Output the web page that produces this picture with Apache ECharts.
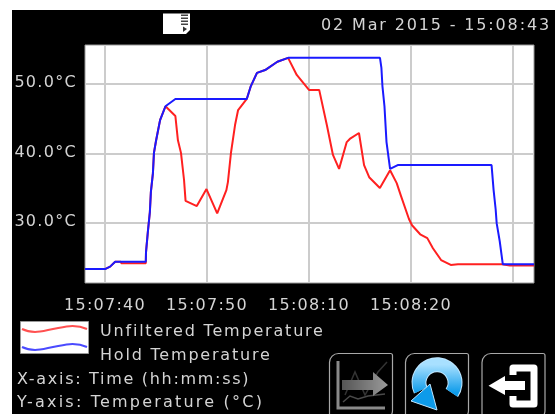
<!DOCTYPE html>
<html>
<head>
<meta charset="utf-8">
<title>Temperature chart</title>
<script src="https://cdn.jsdelivr.net/npm/echarts@6/dist/echarts.min.js"></script>
<style>
html, body { margin: 0; padding: 0; background: #fff; overflow: hidden; }
#panel { position: absolute; left: 12px; top: 10px; right: 0; bottom: 0; background: #000; }
#chart { position: absolute; left: 0; top: 0; width: 555px; height: 414px; filter: blur(0.35px); }
</style>
</head>
<body>
<div id="panel"></div>
<div id="chart"></div>
<script>
// seconds on the plot, the device labels do not run evenly so labels are listed apart
const tickPositions = [0, 10, 20, 30, 40]
const tickLabels = ['15:07:40', '15:07:50', '15:08:10', '15:08:20', '']
const tempTicks = [30, 40, 50]

const holdTime = [-1.96, 0, 0.5, 1, 4, 4.02, 4.2, 4.4, 4.5, 4.7, 4.8, 5, 5.4, 5.93, 6.9, 13.9, 14.3, 14.9, 15.7, 16.9, 17.95, 26.96, 27.1, 27.2, 27.4, 27.6, 27.95, 28.7, 37.9, 38.1, 38.3, 38.4, 38.7, 39, 42.06]
const holdTemp = [23.4, 23.4, 23.75, 24.45, 24.45, 25.8, 28.7, 31.6, 34.5, 37.2, 40.1, 41.8, 44.8, 46.8, 47.85, 47.85, 49.7, 51.6, 52, 53.2, 53.75, 53.75, 52.3, 49.7, 46.8, 41.65, 37.8, 38.35, 38.35, 34.75, 32, 30, 27.4, 24.1, 24.1]

const rawTime = [-1.96, 0, 0.5, 1, 1.55, 1.6, 4, 4.02, 4.2, 4.4, 4.5, 4.7, 4.8, 5, 5.4, 5.93, 6.9, 7.15, 7.45, 7.75, 7.9, 9, 9.95, 11, 11.9, 12.05, 12.35, 12.75, 13.05, 13.9, 14.3, 14.9, 15.7, 16.9, 17.95, 18.8, 20, 21, 21.75, 22.35, 22.95, 23.7, 24, 24.9, 25.4, 25.9, 26.95, 27.95, 28.6, 29, 29.8, 30.1, 30.9, 31.6, 32.15, 32.95, 33.9, 34.6, 38.9, 39.7, 42.06]
const rawTemp = [23.4, 23.4, 23.75, 24.45, 24.45, 24.25, 24.25, 25.8, 28.7, 31.6, 34.5, 37.2, 40.1, 41.8, 44.8, 46.8, 45.4, 41.9, 40.1, 36.2, 33.2, 32.45, 34.9, 31.4, 34.75, 35.9, 40.1, 44.1, 46.25, 47.85, 49.7, 51.6, 52, 53.2, 53.75, 51.3, 49.15, 49.15, 44.1, 39.8, 37.8, 41.65, 42.1, 42.95, 38.35, 36.6, 35.05, 37.6, 35.75, 34, 30.6, 29.7, 28.4, 27.85, 26.4, 24.7, 24, 24.1, 24.1, 23.9, 23.9]

const textColor = '#d4d4d4'
const font = 'DejaVu Sans'
// the screen font runs wider than DejaVu, so each text gets its own tracking (px)
const trackingDate = 1.85
const trackingLegend = 1.8
const trackingXNote = 1.7
const trackingYNote = 2.2
const trackingXTick = 1.25
const trackingYTick = 1.3

function label(x, y, str) {
  return { type: 'text', left: x, top: y, style: { text: str, fill: textColor, font: '16px "' + font + '"' } }
}
// rounded button frame, runs off the bottom of the screen
function button(x) {
  return { type: 'rect', shape: { x: x, y: 353.5, width: 63, height: 66, r: [9, 2, 9, 2] }, style: { fill: 'none', stroke: '#a8a8a8', lineWidth: 1.2 } }
}

function applyTracking() {
  document.querySelectorAll('#chart text').forEach(function (el) {
    let s = el.textContent
    let track = trackingXNote
    if (s.indexOf('Mar') >= 0) track = trackingDate
    else if (s.indexOf('Temperature') >= 0 && s.indexOf('axis') < 0) track = trackingLegend
    else if (s.indexOf('Y-axis') >= 0) track = trackingYNote
    else if (s.indexOf('°C') >= 0) track = trackingYTick
    else if (s.indexOf('15:') === 0) track = trackingXTick
    el.style.letterSpacing = track + 'px'
  })
}

let chart = echarts.init(document.getElementById('chart'), null, { renderer: 'svg' })
chart.on('finished', applyTracking)
chart.setOption({
  animation: false,
  backgroundColor: 'transparent',
  grid: { left: 85, right: 21, top: 45, bottom: 131, show: true, backgroundColor: '#fff', borderColor: '#999', borderWidth: 1 },
  xAxis: {
    type: 'value',
    min: -1.96,
    max: 42.06,
    axisLine: { show: false },
    axisTick: { show: false, customValues: tickPositions },
    splitLine: { show: true, lineStyle: { color: '#ccc', width: 2 } },
    axisLabel: {
      customValues: tickPositions,
      color: textColor,
      fontFamily: font,
      fontSize: 16,
      margin: 13,
      formatter: function (v) { return tickLabels[tickPositions.indexOf(v)] }
    }
  },
  yAxis: {
    type: 'value',
    min: 21.4,
    max: 55.6,
    axisLine: { show: false },
    axisTick: { show: false, customValues: tempTicks },
    splitLine: { show: true, lineStyle: { color: '#ccc', width: 2 } },
    axisLabel: {
      customValues: tempTicks,
      color: textColor,
      margin: 8,
      formatter: function (v) { return '{v|' + v.toFixed(1) + '°C}' },
      rich: { v: { color: textColor, fontFamily: font, fontSize: 16, padding: [0, 0, 5, 0] } }
    }
  },
  series: [
    {
      name: 'Unfiltered Temperature',
      type: 'line',
      symbol: 'none',
      lineStyle: { color: '#ff2020', width: 2 },
      data: rawTime.map((t, i) => [t, rawTemp[i]])
    },
    {
      name: 'Hold Temperature',
      type: 'line',
      symbol: 'none',
      lineStyle: { color: '#1a1aff', width: 2 },
      data: holdTime.map((t, i) => [t, holdTemp[i]])
    }
  ],
  graphic: [
    label(321, 16, '02 Mar 2015 - 15:08:43'),
    label(100, 322, 'Unfiltered Temperature'),
    label(100, 346, 'Hold Temperature'),
    label(17, 370, 'X-axis: Time (hh:mm:ss)'),
    label(17, 393, 'Y-axis: Temperature (°C)'),

    // legend swatch
    { type: 'rect', shape: { x: 20.5, y: 321.5, width: 68, height: 32 }, style: { fill: '#fff', stroke: '#999', lineWidth: 1 } },
    { type: 'bezierCurve', shape: { x1: 22, y1: 329, cpx1: 42, cpy1: 339, cpx2: 64, cpy2: 319, x2: 87, y2: 329 }, style: { fill: 'none', stroke: '#ff5050', lineWidth: 2 } },
    { type: 'bezierCurve', shape: { x1: 22, y1: 347, cpx1: 42, cpy1: 357, cpx2: 64, cpy2: 337, x2: 87, y2: 347 }, style: { fill: 'none', stroke: '#4a4aff', lineWidth: 2 } },

    // save-to-file icon in the header
    { type: 'polygon', shape: { points: [[163, 13.5], [190, 13.5], [190, 30], [186, 34], [163, 34]] }, style: { fill: '#fff' } },
    { type: 'rect', shape: { x: 181, y: 14.5, width: 7, height: 1.5 }, style: { fill: '#444' } },
    { type: 'rect', shape: { x: 181, y: 17.5, width: 7, height: 1.5 }, style: { fill: '#444' } },
    { type: 'rect', shape: { x: 181, y: 20.5, width: 7, height: 1.5 }, style: { fill: '#444' } },
    { type: 'rect', shape: { x: 181, y: 23.5, width: 7, height: 1.5 }, style: { fill: '#444' } },
    { type: 'polygon', shape: { points: [[183, 26.5], [187, 29], [183, 32]] }, style: { fill: '#333' } },

    button(329.5),
    button(405.5),
    button(482),

    // export trend icon
    { type: 'polyline', shape: { points: [[338, 361], [338, 408], [385, 408]] }, style: { fill: 'none', stroke: '#8a8a8a', lineWidth: 3 } },
    { type: 'polyline', shape: { points: [[343, 402], [350, 396], [358, 399], [368, 396], [385, 394]] }, style: { fill: 'none', stroke: '#4a4a4a', lineWidth: 1.5 } },
    { type: 'polyline', shape: { points: [[345, 395], [355, 372], [365, 395], [378, 372], [387, 362]] }, style: { fill: 'none', stroke: '#333', lineWidth: 1.5 } },
    {
      type: 'polygon',
      shape: { points: [[342, 380], [373, 380], [373, 372], [388, 385], [373, 396], [373, 390], [342, 390]] },
      style: { fill: new echarts.graphic.LinearGradient(0, 0, 1, 0, [{ offset: 0, color: '#555' }, { offset: 1, color: '#9a9a9a' }]) }
    },

    // refresh icon
    { type: 'arc', shape: { cx: 437, cy: 382.7, r: 18, startAngle: 0.6, endAngle: 2.7, clockwise: false }, style: { fill: 'none', stroke: '#bfe6ff', lineWidth: 15 } },
    {
      type: 'arc',
      shape: { cx: 437, cy: 382.7, r: 18, startAngle: 0.6, endAngle: 2.7, clockwise: false },
      style: { fill: 'none', stroke: new echarts.graphic.LinearGradient(0, 0, 0, 1, [{ offset: 0, color: '#a8e0ff' }, { offset: 1, color: '#0d9bea' }]), lineWidth: 13 }
    },
    { type: 'polygon', shape: { points: [[411, 401], [437, 410], [430, 384]] }, style: { fill: '#0d9bea', stroke: '#bfe6ff', lineWidth: 1 } },

    // exit icon
    { type: 'polyline', shape: { points: [[513, 375], [513, 368], [534, 368], [534, 404], [513, 404], [513, 396]] }, style: { fill: 'none', stroke: '#fff', lineWidth: 7, lineJoin: 'round' } },
    { type: 'polygon', shape: { points: [[488.5, 385.7], [505, 376], [505, 381], [525, 381], [525, 390], [505, 390], [505, 395]] }, style: { fill: '#fff' } }
  ]
})
applyTracking()
</script>
</body>
</html>
